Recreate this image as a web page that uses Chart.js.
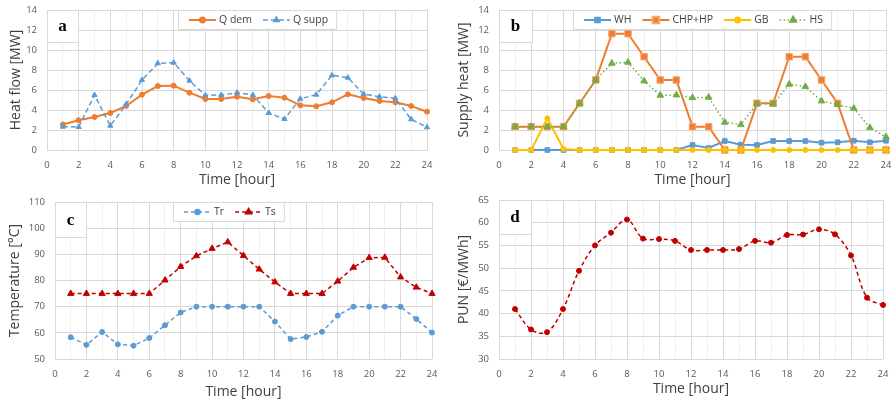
<!DOCTYPE html>
<html><head><meta charset="utf-8">
<script src="https://cdn.jsdelivr.net/npm/chart.js@4.4.1/dist/chart.umd.min.js"></script>
<style>
body{margin:0;background:#fff;width:893px;height:403px;overflow:hidden;position:relative}
.p{position:absolute}
</style></head><body>
<div class="p" style="left:0;top:0;width:445px;height:195px"><canvas id="ca"></canvas></div>
<div class="p" style="left:445px;top:0;width:448px;height:195px"><canvas id="cb"></canvas></div>
<div class="p" style="left:0;top:195px;width:445px;height:208px"><canvas id="cc"></canvas></div>
<div class="p" style="left:445px;top:195px;width:448px;height:208px"><canvas id="cd"></canvas></div>
<script>
// ---- data ----
const hours = [1,2,3,4,5,6,7,8,9,10,11,12,13,14,15,16,17,18,19,20,21,22,23,24];
const qDem  = [2.55,2.98,3.3,3.7,4.4,5.53,6.4,6.43,5.73,5.1,5.1,5.33,5.07,5.4,5.23,4.47,4.37,4.77,5.57,5.2,4.9,4.77,4.4,3.83];
const qSupp = [2.33,2.3,5.5,2.43,4.57,7.0,8.67,8.73,6.93,5.47,5.5,5.73,5.5,3.7,3.1,5.13,5.53,7.47,7.23,5.6,5.33,5.17,3.07,2.27];
const wh    = [0,0,0,0,0,0,0,0,0,0,0,0.5,0.2,0.9,0.53,0.5,0.9,0.9,0.9,0.73,0.77,0.93,0.77,0.93];
const chpHp = [2.33,2.33,2.33,2.33,4.67,7.0,11.63,11.63,9.33,7.0,7.0,2.33,2.33,0,0,4.67,4.67,9.33,9.33,7.0,4.67,0,0,0];
const gb    = [0,0,3.17,0.1,0,0,0,0,0,0,0,0,0,0,0,0,0,0,0,0,0,0,0,0];
const hs    = [2.33,2.33,2.33,2.33,4.67,7.0,8.67,8.77,6.9,5.47,5.5,5.23,5.27,2.77,2.53,4.63,4.6,6.57,6.33,4.9,4.53,4.17,2.23,1.3];
const tr    = [58.3,55.4,60.3,55.6,55.1,58.0,62.9,67.8,70,70,70,70,70,64.3,57.6,58.4,60.4,66.6,70,70,70,70,65.3,60.1];
const ts    = [75,75,75,75,75,75,80.1,85.3,89.4,92.2,94.7,89.5,84.3,79.4,75,75,75,79.7,85,88.7,88.8,81.3,77.4,75];
const pun   = [41.0,36.5,35.9,41.0,49.4,55.0,57.8,60.7,56.5,56.4,56.0,54.0,54.0,54.0,54.2,56.0,55.6,57.3,57.4,58.55,57.45,52.8,43.5,41.9];
const xTickLabels = ['0','2','4','6','8','10','12','14','16','18','20','22','24'];

const FONT = '"Open Sans", "Noto Sans", sans-serif';
const pts = arr => hours.map((h,i)=>({x:h, y:arr[i]}));

function drawMarker(ctx, style, r, x, y){
  if (Chart.helpers && Chart.helpers.drawPoint) {
    Chart.helpers.drawPoint(ctx, {pointStyle:style, radius:r, rotation:0, borderWidth:1}, x, y);
    return;
  }
  ctx.beginPath(); ctx.arc(x,y,r,0,Math.PI*2); ctx.fill();
}

const boxPlugin = {
  id:'boxes',
  afterDatasetsDraw(chart, args, opts){
    const ctx = chart.ctx, ca = chart.chartArea;
    if (opts.letter) {
      const b = opts.letterBox;
      ctx.save();
      ctx.fillStyle = '#fff';
      ctx.fillRect(ca.left, ca.top, b.w, b.h);
      ctx.strokeStyle = '#d9d9d9'; ctx.lineWidth = 1;
      ctx.strokeRect(Math.round(ca.left)+0.5, Math.round(ca.top)+0.5, b.w, b.h);
      ctx.fillStyle = '#000';
      ctx.font = 'bold 17px "Liberation Serif", serif';
      ctx.textAlign = 'center'; ctx.textBaseline = 'middle';
      ctx.fillText(opts.letter, ca.left + b.w/2, ca.top + b.h/2 + 1);
      ctx.restore();
    }
    if (opts.legend) {
      const items = chart.data.datasets;
      ctx.save();
      ctx.font = '10.5px ' + FONT;
      const pad = 11, lineLen = 27, gap = 3, itemGap = 11, h = 19;
      let w = pad;
      items.forEach((d,i)=>{ w += lineLen + gap + ctx.measureText(d.label).width + (i < items.length-1 ? itemGap : 0); });
      w += 8;
      const x0 = Math.round(opts.legend.cx - w/2), y0 = Math.round(ca.top);
      ctx.fillStyle = '#fff';
      ctx.fillRect(x0, y0, w, h);
      ctx.strokeStyle = '#d9d9d9'; ctx.lineWidth = 1;
      ctx.strokeRect(x0+0.5, y0+0.5, w, h);
      let x = x0 + pad; const cy = y0 + h/2 + 0.5;
      items.forEach(d=>{
        ctx.strokeStyle = d.borderColor; ctx.lineWidth = d.borderWidth;
        ctx.setLineDash(d.borderDash || []);
        ctx.beginPath(); ctx.moveTo(x, cy); ctx.lineTo(x+lineLen, cy); ctx.stroke();
        ctx.setLineDash([]);
        ctx.fillStyle = d.pointBackgroundColor; ctx.strokeStyle = d.pointBorderColor;
        drawMarker(ctx, d.pointStyle, d.pointRadius, x + lineLen/2, cy);
        x += lineLen + gap;
        ctx.fillStyle = '#404040'; ctx.textAlign = 'left'; ctx.textBaseline = 'middle';
        ctx.fillText(d.label, x, cy);
        x += ctx.measureText(d.label).width + itemGap;
      });
      ctx.restore();
    }
  }
};
Chart.register(boxPlugin);

function ds(label, arr, color, o){
  return Object.assign({
    label, data: pts(arr), borderColor: color, backgroundColor: color,
    pointBackgroundColor: color, pointBorderColor: color, pointBorderWidth: 1,
    borderWidth: 2, pointRadius: 2.5, pointStyle: 'circle', tension: 0, clip: false, fill: false
  }, o || {});
}

function mk(id, datasets, c){
  return new Chart(document.getElementById(id), {
    type: 'line',
    data: {datasets},
    options: {
      responsive: true, maintainAspectRatio: false, animation: false,
      layout: {padding: {left: 0, top: c.top, right: c.right, bottom: 0}},
      plugins: {
        legend: {display: false}, tooltip: {enabled: false},
        boxes: {letter: c.letter, letterBox: c.letterBox, legend: c.legend}
      },
      scales: {
        x: {
          type: 'linear', min: 0, max: 24,
          afterFit(s){ s.height = c.xh; s.paddingLeft = 0; s.paddingRight = 0; },
          afterBuildTicks(s){ s.ticks = [0].concat(hours).map(v=>({value:v})); },
          ticks: {
            stepSize: 1, autoSkip: false, maxRotation: 0, padding: 10, color: '#595959',
            font: {family: FONT, size: 9.5},
            callback: v => { const i = xTickLabels.indexOf(String(v)); return i >= 0 ? xTickLabels[i] : ''; }
          },
          grid: {color: g => (g.tick && g.tick.value % 2 === 0) ? '#d9d9d9' : '#f0f0f0', drawTicks: false},
          border: {display: false},
          title: {display: true, text: 'Time [hour]', color: '#404040', font: {family: FONT, size: 14}, padding: {top: 0, bottom: c.xtp}}
        },
        y: {
          min: c.ymin, max: c.ymax,
          afterFit(s){ s.width = c.yw; s.paddingTop = 0; s.paddingBottom = 0; },
          ticks: {
            stepSize: c.ystep, padding: 10, color: '#595959', font: {family: FONT, size: 9.5},
            callback: v => (v - c.ymin) % c.ymajor === 0 ? String(v) : ''
          },
          grid: {color: g => (g.tick && (g.tick.value - c.ymin) % c.ymajor === 0) ? '#d9d9d9' : '#f0f0f0', drawTicks: false},
          border: {display: false},
          title: {display: true, text: c.ytitle, color: '#404040', font: {family: FONT, size: 14}, padding: {top: c.ytp, bottom: 0}}
        }
      }
    }
  });
}

// (a)
mk('ca', [
  ds('Q dem', qDem, '#ED7D31', {order: 1}),
  ds('Q supp', qSupp, '#5B9BD5', {borderWidth: 1.5, borderDash: [5,3], pointStyle: 'triangle', pointRadius: 3, order: 0})
], {top: 10, right: 18, yw: 47, xh: 45, xtp: 6.5, ytp: 7.3, ymin: 0, ymax: 14, ystep: 2, ymajor: 2,
    ytitle: 'Heat flow [MW]', letter: 'a', letterBox: {w: 31, h: 32}, legend: {cx: 257}});

// (b)
mk('cb', [
  ds('WH', wh, '#5B9BD5', {pointStyle: 'rect', pointRadius: 3.3, order: 3}),
  ds('CHP+HP', chpHp, '#ED7D31', {pointStyle: 'rect', pointRadius: 4.6, pointBorderColor: '#F4A870', order: 2}),
  ds('GB', gb, '#FFC000', {pointRadius: 2.5, order: 1}),
  ds('HS', hs, '#70AD47', {borderWidth: 1.5, borderDash: [1.5,2.5], pointStyle: 'triangle', pointRadius: 3.8, order: 0})
], {top: 10, right: 7, yw: 54, xh: 45, xtp: 6.5, ytp: 10.6, ymin: 0, ymax: 14, ystep: 2, ymajor: 2,
    ytitle: 'Supply heat [MW]', letter: 'b', letterBox: {w: 33, h: 32}, legend: {cx: 257}});

// (c)
mk('cc', [
  ds('Tr', tr, '#5B9BD5', {borderWidth: 1.5, borderDash: [4,3], pointRadius: 2.5, order: 1}),
  ds('Ts', ts, '#C00000', {borderWidth: 1.5, borderDash: [4,3], pointStyle: 'triangle', pointRadius: 3.6, order: 0})
], {top: 7, right: 13, yw: 55, xh: 44, xtp: 3, ytp: 6.6, ymin: 50, ymax: 110, ystep: 5, ymajor: 10,
    ytitle: 'Temperature [°C]', letter: 'c', letterBox: {w: 31, h: 35}, legend: {cx: 228}});

// (d)
mk('cd', [
  ds('PUN', pun, '#C00000', {borderWidth: 1.5, borderDash: [4,3], pointRadius: 2.5, tension: 0.35})
], {top: 5, right: 10, yw: 54, xh: 44, xtp: 5.6, ytp: 10.6, ymin: 30, ymax: 65, ystep: 5, ymajor: 5,
    ytitle: 'PUN [€/MWh]', letter: 'd', letterBox: {w: 32, h: 34}, legend: null});
</script>
</body></html>
